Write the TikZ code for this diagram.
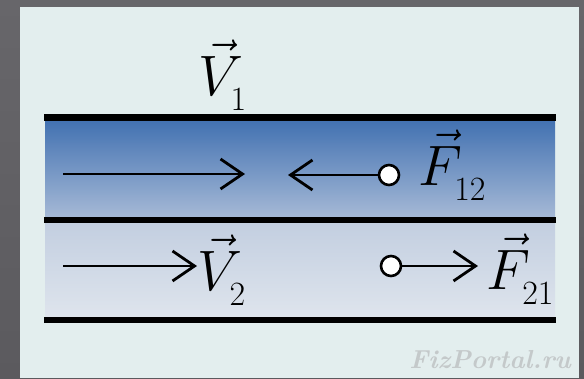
\documentclass[tikz,border=0pt]{standalone}
\usepackage{fix-cm}
\DeclareMathSizes{57}{57}{34}{25}
\usetikzlibrary{arrows.meta}
\definecolor{bgdark}{HTML}{5B5A5E}
\definecolor{bglight}{HTML}{67666A}
\definecolor{panel}{HTML}{E3EEEE}
\definecolor{topA}{HTML}{3F6FB0}
\definecolor{topB}{HTML}{A8BBD7}
\definecolor{botA}{HTML}{C2CEE0}
\definecolor{botB}{HTML}{DFE5ED}
\definecolor{wm}{HTML}{C4C9CA}
\newcommand\mysub[1]{\lower7pt\hbox{$\scriptstyle #1$}}
\tikzset{
  wall/.style={line width=6.5pt},
  vecarrow/.style={line width=2.8pt,-{Straight Barb[length=22pt,width=30pt,line width=2.8pt]}},
  dot/.style={circle,draw,fill=white,line width=2.6pt,minimum size=20pt,inner sep=0pt},
  lbl/.style={font=\fontsize{57}{60}\selectfont,inner sep=0pt,anchor=base west},
}
\begin{document}
\begin{tikzpicture}[x=1pt,y=-1pt]
\useasboundingbox (0,0) rectangle (584,378);
\shade[top color=bglight,bottom color=bgdark] (0,0) rectangle (584,378);
\fill[panel] (20,7) rectangle (579,378);
\shade[top color=topA,bottom color=topB] (45,117) rectangle (555,220);
\shade[top color=botA,bottom color=botB] (45,220) rectangle (555,320);
\coordinate (w1a) at (44,117.5); \coordinate (w1b) at (556,117.5);
\coordinate (w2a) at (44,220); \coordinate (w2b) at (556,220);
\coordinate (w3a) at (44,320); \coordinate (w3b) at (556,320);
\draw[wall] (w1a) -- (w1b);
\draw[wall] (w2a) -- (w2b);
\draw[wall] (w3a) -- (w3b);
% label above
\node[lbl] (V1) at (198,95) {$\vec{V}_{\mysub{1}}$};
% top band
\coordinate (a1s) at (63,174); \coordinate (a1e) at (245,174);
\draw[vecarrow] (a1s) -- (a1e);
\node[dot] (c1) at (389,175) {};
\coordinate (a2e) at (288,175);
\draw[vecarrow] (c1) -- (a2e);
\node[lbl] (F12) at (418,185) {$\vec{F}_{\mysub{12}}$};
% bottom band
\coordinate (a3s) at (63,266); \coordinate (a3e) at (197,266);
\draw[vecarrow] (a3s) -- (a3e);
\node[lbl] (V2) at (197,290) {$\vec{V}_{\mysub{2}}$};
\node[dot] (c2) at (391,266) {};
\coordinate (a4e) at (478,266);
\draw[vecarrow] (c2) -- (a4e);
\node[lbl] (F21) at (486,289) {$\vec{F}_{\mysub{21}}$};
% watermark
\node[font=\fontsize{26}{30}\selectfont\bfseries\itshape,text=wm,anchor=base east,inner sep=0pt] (wmk) at (571,368) {FizPortal.ru};
\end{tikzpicture}
\end{document}
